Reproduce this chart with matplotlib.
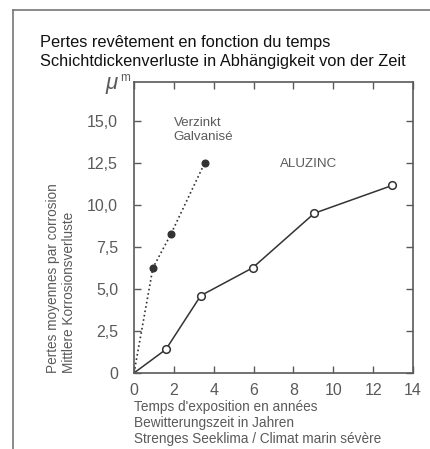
# Schichtdickenverluste / pertes revêtement en fonction du temps

import matplotlib.pyplot as plt
from matplotlib.lines import Line2D

plt.rcParams['font.family'] = ['Liberation Sans', 'DejaVu Sans']

galva_years = [0, 0.95, 1.85, 3.55]
galva_loss = [0, 6.25, 8.25, 12.5]
aluzinc_years = [0, 1.6, 3.35, 5.95, 9.05, 12.95]
aluzinc_loss = [0, 1.4, 4.6, 6.25, 9.5, 11.15]
x_ticks = [0, 2, 4, 6, 8, 10, 12, 14]
y_ticks = [0, 2.5, 5, 7.5, 10, 12.5, 15]
y_labels = ['0', '2,5', '5,0', '7,5', '10,0', '12,5', '15,0']

grey = '#5a5a5a'
dark = '#333333'

fig = plt.figure(figsize=(4.30, 4.49), dpi=100)
fig.patch.set_facecolor('white')
ax = fig.add_axes([0.3116, 0.1693, 0.649, 0.648])

ax.plot(galva_years, galva_loss, ls=':', color=dark, lw=1.2,
        marker='o', ms=4.8, mfc=dark, mec=dark, markevery=[1, 2, 3])
ax.plot(aluzinc_years, aluzinc_loss, ls='-', color=dark, lw=1.1,
        marker='o', ms=5.5, mfc='white', mec=dark, mew=1.1,
        markevery=[1, 2, 3, 4, 5])

ax.set_xlim(0, 14)
ax.set_ylim(0, 17.3)
ax.set_xticks(x_ticks)
ax.set_yticks(y_ticks)
ax.set_yticklabels(y_labels)
ax.tick_params(direction='in', length=5, width=1, color=grey,
               top=True, right=True, labelcolor=grey, labelsize=11.5)
ax.tick_params(axis='y', pad=11.5)
ax.tick_params(axis='x', pad=7)
for s in ax.spines.values():
    s.set_color(grey)
    s.set_linewidth(1.2)

ax.text(2.0, 15.2, 'Verzinkt\nGalvanisé', fontsize=9.6, color=grey,
        va='top', ha='left', linespacing=1.2)
ax.text(7.3, 12.4, 'ALUZINC', fontsize=9.6, color=grey, va='center', ha='left')

fig.text(40 / 430, 1 - 52 / 449, 'Pertes revêtement en fonction du temps\n'
         'Schichtdickenverluste in Abhängigkeit von der Zeit',
         fontsize=11.8, color='#111111', ha='left', va='center', linespacing=1.28)

fig.text(105 / 430, 1 - 84 / 449, 'μ', fontsize=16, style='italic',
         color=grey, ha='left', va='center')
fig.text(120 / 430, 1 - 78 / 449, 'm', fontsize=8.5, color=grey,
         ha='left', va='center')

fig.text(61 / 430, 1 - 373 / 449, 'Pertes moyennes par corrosion\n'
         'Mittlere Korrosionsverluste', rotation=90, fontsize=9.8,
         color=grey, ha='center', va='bottom', multialignment='left',
         linespacing=1.1)

fig.text(134 / 430, 1 - 415 / 449, "Temps d'exposition en années\n"
         'Bewitterungszeit in Jahren', fontsize=9.8, color=grey,
         ha='left', va='center', linespacing=1.1)
fig.text(134 / 430, 1 - 439 / 449, 'Strenges Seeklima / Climat marin sévère',
         fontsize=9.8, color=grey, ha='left', va='center')

# frame lines of the original page
fx = 13 / 430
fy = 1 - 10 / 449
fig.add_artist(Line2D([fx, 1], [fy, fy], color='#777777', lw=1.2))
fig.add_artist(Line2D([fx, fx], [0, fy], color='#777777', lw=1.2))

fig.savefig('out.png', dpi=100)
